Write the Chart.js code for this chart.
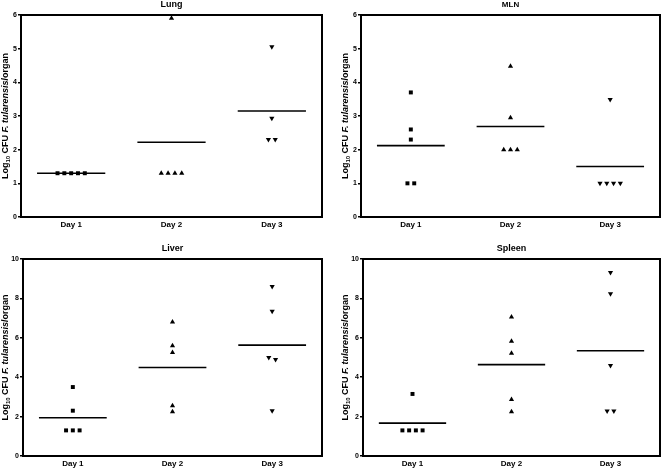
<!DOCTYPE html>
<html>
<head>
<meta charset="utf-8">
<script src="https://cdn.jsdelivr.net/npm/chart.js@4"></script>
<style>
  body { margin: 0; background: #fff; }
  .panel { position: absolute; }
</style>
</head>
<body>
<div class="panel" style="left:0;top:0;width:332px;height:234px"><canvas id="lung"></canvas></div>
<div class="panel" style="left:332px;top:0;width:332px;height:234px"><canvas id="mln"></canvas></div>
<div class="panel" style="left:0;top:234px;width:332px;height:235px"><canvas id="liver"></canvas></div>
<div class="panel" style="left:332px;top:234px;width:332px;height:235px"><canvas id="spleen"></canvas></div>
<script>
// Categories and tick labels
const days = ['Day 1', 'Day 2', 'Day 3'];

// log10 CFU per organ, one array per day
const lungDay1 = [1.3, 1.3, 1.3, 1.3, 1.3];
const lungDay2 = [5.9, 1.3, 1.3, 1.3, 1.3];
const lungDay3 = [5.06, 2.93, 2.3, 2.3];

const mlnDay1 = [3.7, 2.6, 2.3, 1.0, 1.0];
const mlnDay2 = [4.48, 2.95, 2.0, 2.0, 2.0];
const mlnDay3 = [3.49, 1.0, 1.0, 1.0, 1.0];

const liverDay1 = [3.5, 2.3, 1.3, 1.3, 1.3];
const liverDay2 = [6.8, 5.6, 5.26, 2.55, 2.24];
const liverDay3 = [8.6, 7.35, 5.0, 4.9, 2.3];

const spleenDay1 = [3.15, 1.3, 1.3, 1.3, 1.3];
const spleenDay2 = [7.05, 5.82, 5.21, 2.87, 2.24];
const spleenDay3 = [9.31, 8.24, 4.6, 2.28, 2.28];

const lungTicks = [0, 1, 2, 3, 4, 5, 6];
const mlnTicks = [0, 1, 2, 3, 4, 5, 6];
const liverTicks = [0, 2, 4, 6, 8, 10];
const spleenTicks = [0, 2, 4, 6, 8, 10];

const FONT = "'Liberation Sans', Arial, sans-serif";

// spread points with (nearly) equal values side by side around the day position
function spread(values, day) {
  const pts = [];
  const used = values.map(() => false);
  values.forEach((v, i) => {
    if (used[i]) return;
    const group = [];
    values.forEach((w, j) => {
      if (!used[j] && Math.abs(w - v) < 0.2) { group.push(w); used[j] = true; }
    });
    group.forEach((w, k) => {
      pts.push({ x: day + (k - (group.length - 1) / 2) * 0.068, y: w });
    });
  });
  return pts;
}

function mean(a) { return a.reduce((s, v) => s + v, 0) / a.length; }

const frame = {
  id: 'frame',
  afterDraw(chart, args, o) {
    const { ctx, chartArea: a } = chart;
    ctx.save();
    ctx.strokeStyle = '#000';
    ctx.lineWidth = 2;
    ctx.strokeRect(a.left, a.top, a.right - a.left, a.bottom - a.top);
    // panel title
    ctx.fillStyle = '#000';
    ctx.font = 'bold ' + o.titleSize + 'px ' + FONT;
    ctx.textAlign = 'center';
    ctx.textBaseline = 'middle';
    ctx.fillText(o.title, (a.left + a.right) / 2, o.titleY);
    // y axis title with subscript and italic part
    const parts = [
      ['Log', 'bold 9px ' + FONT, 0],
      ['10', 'bold 6px ' + FONT, 2.5],
      [' CFU ', 'bold 9px ' + FONT, 0],
      ['F. tularensis', 'italic bold 9px ' + FONT, 0],
      ['/organ', 'bold 9px ' + FONT, 0]
    ];
    let total = 0;
    parts.forEach(p => { ctx.font = p[1]; total += ctx.measureText(p[0]).width; });
    ctx.translate(o.yTitleX, (a.top + a.bottom) / 2);
    ctx.rotate(-Math.PI / 2);
    ctx.textAlign = 'left';
    let x = -total / 2;
    parts.forEach(p => {
      ctx.font = p[1];
      ctx.fillText(p[0], x, p[2]);
      x += ctx.measureText(p[0]).width;
    });
    ctx.restore();
  }
};

function makePanel(id, title, groups, ticks, lay) {
  const styles = [
    { pointStyle: 'rect', rotation: 0, radius: 2.8 },
    { pointStyle: 'triangle', rotation: 0, radius: 3 },
    { pointStyle: 'triangle', rotation: 180, radius: 3 }
  ];
  const datasets = [];
  groups.forEach((vals, i) => {
    datasets.push({
      type: 'scatter',
      data: spread(vals, i + 1),
      pointStyle: styles[i].pointStyle,
      rotation: styles[i].rotation,
      pointRadius: styles[i].radius,
      backgroundColor: '#000',
      borderColor: '#000',
      borderWidth: 0
    });
    const m = mean(vals);
    datasets.push({
      type: 'line',
      data: [{ x: i + 1 - 0.34, y: m }, { x: i + 1 + 0.34, y: m }],
      borderColor: '#000',
      borderWidth: 1.6,
      pointRadius: 0
    });
  });

  new Chart(document.getElementById(id), {
    data: { datasets },
    options: {
      responsive: true,
      maintainAspectRatio: false,
      animation: false,
      layout: { padding: { top: lay.top, right: lay.right, left: 0, bottom: 0 } },
      plugins: {
        legend: { display: false },
        tooltip: { enabled: false },
        frame: { title, titleY: lay.titleY, titleSize: lay.titleSize, yTitleX: lay.yTitleX }
      },
      scales: {
        x: {
          type: 'linear',
          min: 0.5,
          max: 3.5,
          afterBuildTicks: s => { s.ticks = [1, 2, 3].map(v => ({ value: v })); },
          afterFit: s => { s.height = lay.bottom; },
          grid: { display: false, drawTicks: false, tickLength: 0 },
          border: { display: false },
          ticks: {
            callback: v => days[v - 1],
            color: '#000',
            padding: 3,
            maxRotation: 0,
            font: { family: FONT, size: 8, weight: 'bold' }
          }
        },
        y: {
          min: ticks[0],
          max: ticks[ticks.length - 1],
          afterBuildTicks: s => { s.ticks = ticks.map(v => ({ value: v })); },
          afterFit: s => { s.width = lay.left; },
          grid: { drawOnChartArea: false, drawTicks: true, tickLength: 3, color: '#000', lineWidth: 1.5 },
          border: { display: false },
          ticks: {
            color: '#000',
            padding: 1,
            font: { family: FONT, size: 7, weight: 'bold' }
          }
        }
      }
    },
    plugins: [frame]
  });
}

makePanel('lung', 'Lung', [lungDay1, lungDay2, lungDay3], lungTicks,
  { top: 15, right: 10, bottom: 17, left: 21, titleY: 5, titleSize: 9, yTitleX: 6 });
makePanel('mln', 'MLN', [mlnDay1, mlnDay2, mlnDay3], mlnTicks,
  { top: 15, right: 2, bottom: 17, left: 29, titleY: 5, titleSize: 8, yTitleX: 14 });
makePanel('liver', 'Liver', [liverDay1, liverDay2, liverDay3], liverTicks,
  { top: 25, right: 10, bottom: 13, left: 23, titleY: 15, titleSize: 9, yTitleX: 6 });
makePanel('spleen', 'Spleen', [spleenDay1, spleenDay2, spleenDay3], spleenTicks,
  { top: 25, right: 1, bottom: 13, left: 31, titleY: 15, titleSize: 9, yTitleX: 14 });
</script>
</body>
</html>
